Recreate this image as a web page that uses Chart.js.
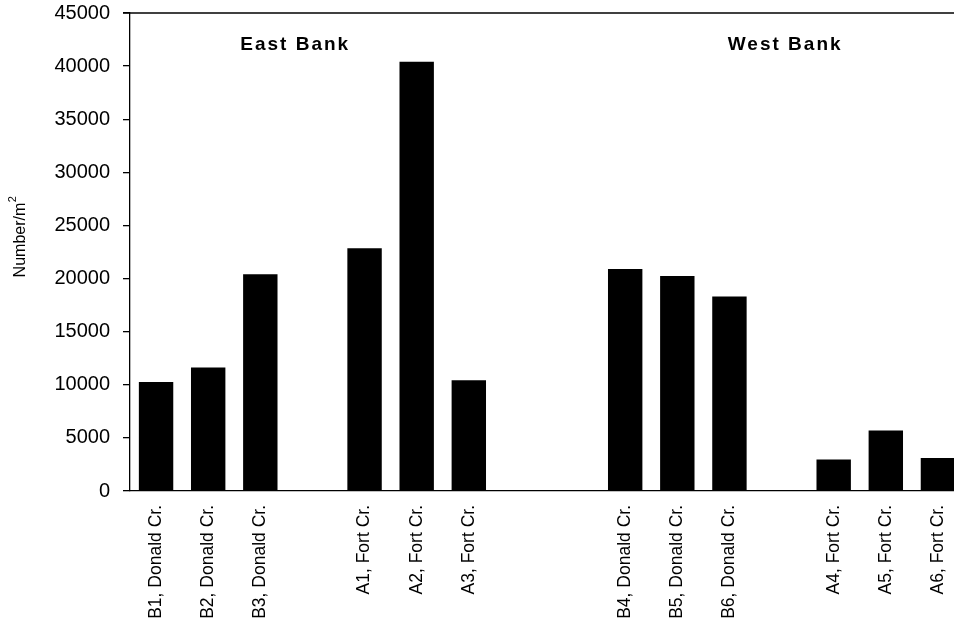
<!DOCTYPE html>
<html>
<head>
<meta charset="utf-8">
<script src="https://cdn.jsdelivr.net/npm/chart.js@4/dist/chart.umd.min.js"></script>
<style>
  html, body { margin: 0; padding: 0; background: #fff; overflow: hidden; }
  #wrap { width: 964px; height: 625px; }
</style>
</head>
<body>
<div id="wrap"><canvas id="densityChart" width="964" height="625"></canvas></div>
<script>
// sites along the creek; blank entries are the gaps between groups
const categories = [
    'B1, Donald Cr.', 'B2, Donald Cr.', 'B3, Donald Cr.', '',
    'A1, Fort Cr.', 'A2, Fort Cr.', 'A3, Fort Cr.', '', '',
    'B4, Donald Cr.', 'B5, Donald Cr.', 'B6, Donald Cr.', '',
    'A4, Fort Cr.', 'A5, Fort Cr.', 'A6, Fort Cr.'
];
const densities = [
    10270, 11630, 20400, null,
    22850, 40400, 10430, null, null,
    20900, 20240, 18320, null,
    2960, 5690, 3110
];
const yMin = 0;
const yMax = 45000;
const yStep = 5000;
const bankNames = ['East Bank', 'West Bank'];
const yTitle = 'Number/m';
const yTitleSup = '2';

const font = 'Liberation Sans, Arial, Helvetica, sans-serif';

// top frame line, bank labels and the y title with its superscript
const extrasPlugin = {
    id: 'extras',
    afterDraw(chart) {
        const ctx = chart.ctx;
        const area = chart.chartArea;
        const x = chart.scales.x;

        ctx.save();
        ctx.strokeStyle = '#000';
        ctx.lineWidth = 1.3;
        ctx.beginPath();
        ctx.moveTo(area.left - 7, area.top);
        ctx.lineTo(area.right, area.top);
        ctx.stroke();

        ctx.fillStyle = '#000';
        ctx.font = 'bold 19px ' + font;
        ctx.letterSpacing = '2px';
        ctx.textAlign = 'center';
        ctx.textBaseline = 'middle';
        ctx.fillText(bankNames[0], x.getPixelForValue(2.65) + 1, 45);
        ctx.fillText(bankNames[1], x.getPixelForValue(12.05) + 1, 45);
        ctx.letterSpacing = '0px';

        ctx.translate(21, 237);
        ctx.rotate(-Math.PI / 2);
        ctx.font = '16px ' + font;
        const w1 = ctx.measureText(yTitle).width;
        ctx.font = '11px ' + font;
        const w2 = ctx.measureText(yTitleSup).width;
        const start = -(w1 + w2) / 2;
        ctx.textAlign = 'left';
        ctx.font = '16px ' + font;
        ctx.fillText(yTitle, start, 0);
        ctx.font = '11px ' + font;
        ctx.fillText(yTitleSup, start + w1 + 0.5, -8);
        ctx.restore();
    }
};

new Chart(document.getElementById('densityChart').getContext('2d'), {
    type: 'bar',
    data: {
        labels: categories,
        datasets: [{
            data: densities,
            backgroundColor: '#000',
            borderColor: '#000',
            borderWidth: 0,
            categoryPercentage: 1,
            barPercentage: 0.66
        }]
    },
    options: {
        responsive: false,
        animation: false,
        layout: { padding: { top: 13, left: 0, right: 0, bottom: 0 } },
        plugins: {
            legend: { display: false },
            tooltip: { enabled: false }
        },
        scales: {
            x: {
                grid: { display: false, drawTicks: false },
                border: { display: true, color: '#000', width: 1.3 },
                ticks: {
                    autoSkip: false,
                    minRotation: 90,
                    maxRotation: 90,
                    padding: 14,
                    color: '#000',
                    font: { family: font, size: 17.5 }
                },
                afterFit(scale) {
                    scale.height = 134;
                    scale.paddingLeft = 0;
                    scale.paddingRight = 0;
                }
            },
            y: {
                min: yMin,
                max: yMax,
                grid: {
                    drawOnChartArea: false,
                    drawTicks: true,
                    tickLength: 7,
                    color: '#000',
                    lineWidth: 1.3
                },
                border: { display: true, color: '#000', width: 1.3 },
                ticks: {
                    stepSize: yStep,
                    padding: 13,
                    color: '#000',
                    font: { family: font, size: 20 },
                    callback: (v) => String(v)
                },
                afterFit(scale) {
                    scale.width = 130;
                    scale.paddingTop = 0;
                    scale.paddingBottom = 0;
                }
            }
        }
    },
    plugins: [extrasPlugin]
});
</script>
</body>
</html>
